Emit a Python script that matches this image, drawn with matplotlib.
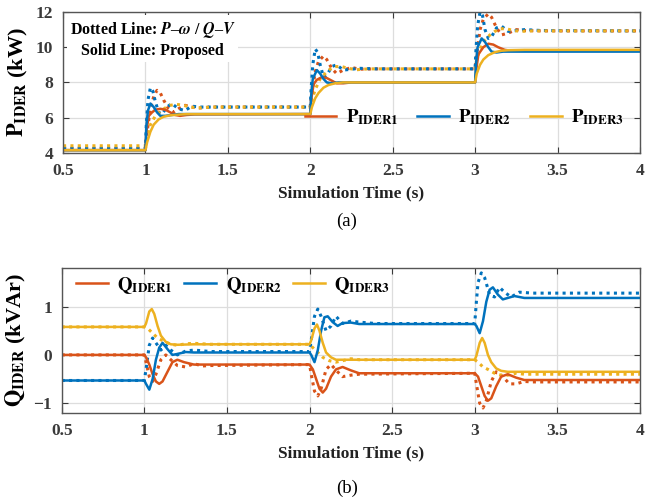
import matplotlib
matplotlib.use('Agg')
import matplotlib.pyplot as plt

plt.rcParams['font.family'] = 'serif'
plt.rcParams['font.serif'] = ['Liberation Serif', 'DejaVu Serif']
plt.rcParams['mathtext.fontset'] = 'stix'

outfile = 'out.png'

c1 = '#D95319'
c2 = '#0072BD'
c3 = '#EDB120'

# ---- (a) active power, proposed (solid)
p1_t = [0.5, 1.0, 1.005, 1.02, 1.04, 1.06, 1.09, 1.12, 1.15, 1.18, 1.21, 1.25, 1.3,
        2.0, 2.005, 2.02, 2.04, 2.07, 2.1, 2.13, 2.16, 2.2, 2.25,
        3.0, 3.005, 3.02, 3.05, 3.08, 3.11, 3.14, 3.18, 3.22, 3.3, 4.0]
p1_v = [4.15, 4.15, 5.2, 6.1, 6.3, 6.45, 6.5, 6.45, 6.3, 6.15, 6.1, 6.15, 6.18,
        6.2, 7.0, 7.9, 8.15, 8.3, 8.25, 8.1, 7.95, 7.95, 8.0,
        8.0, 8.6, 9.6, 10.0, 10.2, 10.15, 10.0, 9.85, 9.8, 9.8, 9.8]
p2_t = [0.5, 1.0, 1.005, 1.015, 1.03, 1.05, 1.07, 1.09, 1.12, 1.16, 1.2, 1.3,
        2.0, 2.005, 2.015, 2.04, 2.06, 2.08, 2.1, 2.13, 2.17, 2.22,
        3.0, 3.005, 3.015, 3.04, 3.06, 3.08, 3.1, 3.13, 3.17, 3.25, 4.0]
p2_v = [4.15, 4.15, 5.5, 6.4, 6.8, 6.6, 6.3, 6.1, 6.1, 6.15, 6.2, 6.2,
        6.2, 7.2, 8.2, 8.7, 8.5, 8.2, 8.0, 7.95, 8.0, 8.0,
        8.0, 9.0, 10.0, 10.5, 10.3, 10.0, 9.75, 9.7, 9.75, 9.75, 9.75]
p3_t = [0.5, 1.0, 1.01, 1.03, 1.05, 1.08, 1.11, 1.15, 1.2, 1.25, 1.3,
        2.0, 2.01, 2.03, 2.05, 2.08, 2.11, 2.15, 2.2, 2.3,
        3.0, 3.01, 3.03, 3.05, 3.08, 3.12, 3.16, 3.2, 3.3, 4.0]
p3_v = [4.15, 4.15, 4.6, 5.2, 5.6, 5.9, 6.05, 6.13, 6.17, 6.2, 6.2,
        6.2, 6.6, 7.1, 7.4, 7.7, 7.85, 7.95, 8.0, 8.0,
        8.0, 8.5, 9.0, 9.3, 9.55, 9.72, 9.8, 9.83, 9.85, 9.85]

# ---- (a) active power, P-w / Q-V droop (dotted)
p1d_t = [0.5, 1.0, 1.01, 1.03, 1.05, 1.07, 1.09, 1.11, 1.14, 1.17, 1.2, 1.24, 1.28, 1.33, 1.4,
         2.0, 2.01, 2.03, 2.05, 2.08, 2.1, 2.13, 2.16, 2.2, 2.25, 2.3, 2.4,
         3.0, 3.01, 3.03, 3.05, 3.08, 3.1, 3.13, 3.16, 3.2, 3.25, 3.3, 3.4, 4.0]
p1d_v = [4.25, 4.25, 5.2, 6.5, 7.2, 7.55, 7.4, 7.0, 6.5, 6.3, 6.5, 6.7, 6.6, 6.55, 6.6,
         6.6, 7.4, 8.6, 9.2, 9.5, 9.3, 8.8, 8.5, 8.7, 8.85, 8.75, 8.77,
         8.77, 9.6, 11.0, 11.6, 11.9, 11.7, 11.1, 10.7, 10.8, 11.0, 10.95, 10.93, 10.93]
p2d_t = [0.5, 1.0, 1.005, 1.015, 1.03, 1.045, 1.06, 1.08, 1.1, 1.13, 1.16, 1.2, 1.24, 1.28, 1.33, 1.4,
         2.0, 2.005, 2.015, 2.03, 2.045, 2.06, 2.08, 2.1, 2.13, 2.16, 2.2, 2.25, 2.3, 2.4,
         3.0, 3.005, 3.015, 3.03, 3.045, 3.06, 3.08, 3.1, 3.13, 3.16, 3.2, 3.25, 3.3, 3.4, 4.0]
p2d_v = [4.25, 4.25, 5.6, 7.0, 7.7, 7.5, 6.9, 6.3, 6.2, 6.6, 6.8, 6.5, 6.4, 6.65, 6.6, 6.6,
         6.6, 7.6, 9.0, 9.9, 9.7, 9.0, 8.3, 8.4, 8.9, 9.0, 8.7, 8.75, 8.8, 8.77,
         8.77, 9.8, 11.2, 12.0, 11.8, 11.0, 10.5, 10.6, 11.1, 11.2, 10.9, 10.95, 11.0, 10.95, 10.93]
p3d_t = [0.5, 1.0, 1.01, 1.03, 1.06, 1.09, 1.12, 1.15, 1.19, 1.23, 1.27, 1.32, 1.4,
         2.0, 2.01, 2.03, 2.06, 2.09, 2.12, 2.15, 2.19, 2.23, 2.28, 2.35,
         3.0, 3.01, 3.03, 3.06, 3.09, 3.12, 3.15, 3.19, 3.23, 3.28, 3.35, 4.0]
p3d_v = [4.4, 4.4, 4.9, 5.6, 6.1, 6.35, 6.55, 6.7, 6.75, 6.7, 6.6, 6.55, 6.6,
         6.6, 7.0, 7.6, 8.2, 8.5, 8.75, 8.9, 8.9, 8.8, 8.72, 8.77,
         8.77, 9.3, 9.9, 10.4, 10.7, 10.9, 11.05, 11.05, 10.95, 10.9, 10.93, 10.93]

# ---- (b) reactive power, proposed (solid)
q1_t = [0.5, 1.0, 1.01, 1.03, 1.05, 1.07, 1.09, 1.11, 1.14, 1.17, 1.2, 1.24, 1.3,
        2.0, 2.02, 2.04, 2.06, 2.08, 2.1, 2.13, 2.16, 2.2, 2.25, 2.3,
        3.0, 3.02, 3.04, 3.06, 3.08, 3.1, 3.13, 3.16, 3.2, 3.25, 3.3, 4.0]
q1_v = [0.0, 0.0, -0.05, -0.2, -0.4, -0.55, -0.6, -0.55, -0.35, -0.15, -0.1, -0.15, -0.2,
        -0.2, -0.3, -0.5, -0.7, -0.78, -0.7, -0.45, -0.3, -0.25, -0.32, -0.38,
        -0.38, -0.45, -0.65, -0.85, -0.95, -0.9, -0.65, -0.45, -0.4, -0.47, -0.52, -0.52]
q2_t = [0.5, 1.0, 1.01, 1.03, 1.05, 1.07, 1.09, 1.11, 1.14, 1.17, 1.2, 1.25, 1.3,
        2.0, 2.01, 2.03, 2.05, 2.07, 2.09, 2.11, 2.14, 2.17, 2.2, 2.25, 2.3,
        3.0, 3.01, 3.03, 3.05, 3.07, 3.09, 3.11, 3.14, 3.17, 3.2, 3.24, 3.3, 4.0]
q2_v = [-0.53, -0.53, -0.6, -0.72, -0.5, -0.1, 0.15, 0.25, 0.12, 0.0, 0.02, 0.06, 0.05,
        0.05, 0.0, -0.15, 0.1, 0.5, 0.78, 0.8, 0.68, 0.6, 0.66, 0.67, 0.64,
        0.64, 0.6, 0.45, 0.7, 1.1, 1.35, 1.4, 1.25, 1.15, 1.18, 1.22, 1.18, 1.18]
q3_t = [0.5, 1.0, 1.01, 1.03, 1.045, 1.06, 1.08, 1.1, 1.13, 1.16, 1.2, 1.3,
        2.0, 2.01, 2.03, 2.045, 2.06, 2.08, 2.1, 2.13, 2.16, 2.2, 2.3,
        3.0, 3.01, 3.03, 3.045, 3.06, 3.08, 3.1, 3.13, 3.16, 3.2, 3.3, 4.0]
q3_v = [0.58, 0.58, 0.65, 0.9, 0.95, 0.85, 0.6, 0.4, 0.27, 0.22, 0.21, 0.22,
        0.22, 0.3, 0.55, 0.63, 0.5, 0.25, 0.05, -0.05, -0.1, -0.1, -0.1,
        -0.1, -0.02, 0.25, 0.35, 0.25, 0.0, -0.15, -0.28, -0.33, -0.35, -0.35, -0.35]

# ---- (b) reactive power, droop (dotted)
q1d_t = [0.5, 1.0, 1.01, 1.03, 1.05, 1.07, 1.1, 1.13, 1.16, 1.2, 1.25, 1.3, 1.35, 1.4,
         2.0, 2.01, 2.03, 2.05, 2.07, 2.1, 2.13, 2.17, 2.2, 2.25, 2.3,
         3.0, 3.01, 3.03, 3.05, 3.07, 3.1, 3.13, 3.17, 3.21, 3.25, 3.3, 3.35, 4.0]
q1d_v = [0.0, 0.0, -0.15, -0.45, -0.55, -0.4, -0.1, 0.0, -0.1, -0.22, -0.25, -0.18, -0.23, -0.22,
         -0.2, -0.4, -0.75, -0.85, -0.7, -0.3, -0.2, -0.35, -0.45, -0.42, -0.4,
         -0.38, -0.6, -1.0, -1.1, -0.95, -0.55, -0.35, -0.45, -0.6, -0.6, -0.55, -0.56, -0.56]
q2d_t = [0.5, 1.0, 1.01, 1.03, 1.05, 1.07, 1.1, 1.13, 1.16, 1.2, 1.25, 1.3, 1.4,
         2.0, 2.01, 2.03, 2.05, 2.07, 2.1, 2.13, 2.16, 2.2, 2.25, 2.3, 2.4,
         3.0, 3.01, 3.02, 3.04, 3.06, 3.09, 3.12, 3.15, 3.18, 3.22, 3.27, 3.35, 4.0]
q2d_v = [-0.53, -0.53, -0.3, 0.2, 0.35, 0.25, 0.1, 0.2, 0.1, 0.0, 0.08, 0.1, 0.07,
         0.07, 0.3, 0.8, 0.95, 0.8, 0.5, 0.6, 0.8, 0.65, 0.7, 0.68, 0.65,
         0.65, 1.1, 1.5, 1.7, 1.6, 1.25, 1.2, 1.4, 1.3, 1.2, 1.3, 1.28, 1.28]
q3d_t = [0.5, 1.0, 1.02, 1.05, 1.08, 1.12, 1.16, 1.2, 1.25, 1.3, 1.4,
         2.0, 2.02, 2.05, 2.08, 2.12, 2.16, 2.2, 2.25, 2.3,
         3.0, 3.02, 3.05, 3.08, 3.12, 3.16, 3.2, 3.25, 3.3, 4.0]
q3d_v = [0.58, 0.58, 0.55, 0.45, 0.35, 0.28, 0.22, 0.2, 0.23, 0.24, 0.22,
         0.22, 0.15, 0.05, -0.05, -0.12, -0.15, -0.12, -0.08, -0.1,
         -0.1, -0.15, -0.25, -0.3, -0.38, -0.42, -0.42, -0.38, -0.4, -0.4]

p_labels = [r'$\mathbf{P_{IDER1}}$', r'$\mathbf{P_{IDER2}}$', r'$\mathbf{P_{IDER3}}$']
q_labels = [r'$\mathbf{Q_{IDER1}}$', r'$\mathbf{Q_{IDER2}}$', r'$\mathbf{Q_{IDER3}}$']
x_ticks = [0.5, 1, 1.5, 2, 2.5, 3, 3.5, 4]
x_ticklabels = ['0.5', '1', '1.5', '2', '2.5', '3', '3.5', '4']

fig = plt.figure(figsize=(6.57, 5.01), dpi=100, facecolor='w')
ax1 = fig.add_axes([0.096, 0.695, 0.878, 0.281])
ax2 = fig.add_axes([0.094, 0.176, 0.880, 0.289])

dot = (0, (1, 1.4))
lw = 1.8

# dotted first, solid on top
for t, v, c in [(p1d_t, p1d_v, c1), (p2d_t, p2d_v, c2), (p3d_t, p3d_v, c3)]:
    ax1.plot(t, v, color=c, linestyle=dot, linewidth=2.2)
for t, v, c, lab in [(p1_t, p1_v, c1, p_labels[0]), (p2_t, p2_v, c2, p_labels[1]),
                     (p3_t, p3_v, c3, p_labels[2])]:
    ax1.plot(t, v, color=c, linewidth=lw, label=lab)

for t, v, c in [(q1d_t, q1d_v, c1), (q2d_t, q2d_v, c2), (q3d_t, q3d_v, c3)]:
    ax2.plot(t, v, color=c, linestyle=dot, linewidth=2.2)
for t, v, c, lab in [(q1_t, q1_v, c1, q_labels[0]), (q2_t, q2_v, c2, q_labels[1]),
                     (q3_t, q3_v, c3, q_labels[2])]:
    ax2.plot(t, v, color=c, linewidth=lw, label=lab)

for ax in (ax1, ax2):
    ax.set_xlim(0.5, 4)
    ax.set_xticks(x_ticks)
    ax.set_xticklabels(x_ticklabels)
    ax.grid(True, color='#dddddd', linewidth=0.9)
    ax.set_axisbelow(True)
    ax.tick_params(direction='in', top=True, right=True, length=4, width=0.8,
                   colors='#3a3a3a', labelsize=12.5, pad=7)
    for s in ax.spines.values():
        s.set_color('#555555')
        s.set_linewidth(1.0)
    ax.set_xlabel('Simulation Time (s)', fontsize=12.5, fontweight='bold', color='#222222',
                  labelpad=5)

ax1.set_ylim(4, 12)
ax1.set_yticks([4, 6, 8, 10, 12])
ax2.set_ylim(-1.2, 1.8)
ax2.set_yticks([-1, 0, 1])
for ax in (ax1, ax2):
    for lbl in ax.get_xticklabels() + ax.get_yticklabels():
        lbl.set_fontweight('bold')

ax1.set_ylabel(r'$\mathbf{P_{IDER}}$ (kW)', fontsize=16, fontweight='bold', labelpad=4)
ax2.set_ylabel(r'$\mathbf{Q_{IDER}}$ (kVAr)', fontsize=16, fontweight='bold', labelpad=4)

ax1.legend(loc='center right', bbox_to_anchor=(0.985, 0.25), ncol=3, frameon=False,
           fontsize=13.5, handlelength=1.7, columnspacing=1.0, handletextpad=0.5,
           borderaxespad=0)
ax2.legend(loc='center left', bbox_to_anchor=(0.012, 0.88), ncol=3, frameon=False,
           fontsize=13.5, handlelength=1.7, columnspacing=0.6, handletextpad=0.5,
           borderaxespad=0)

ax1.text(0.155, 0.805,
         'Dotted Line: ' + r'$\mathbfit{P}$–$\mathbfit{\omega}$ / $\mathbfit{Q}$–$\mathbfit{V}$'
         + '\nSolid Line: Proposed',
         transform=ax1.transAxes, ha='center', va='center', multialignment='center',
         fontsize=11.5, fontweight='bold', linespacing=1.3,
         bbox=dict(facecolor='white', edgecolor='none', pad=2))

fig.text(0.528, 0.558, '(a)', ha='center', va='center', fontsize=13.5)
fig.text(0.528, 0.026, '(b)', ha='center', va='center', fontsize=13.5)

plt.savefig(outfile, dpi=100)
